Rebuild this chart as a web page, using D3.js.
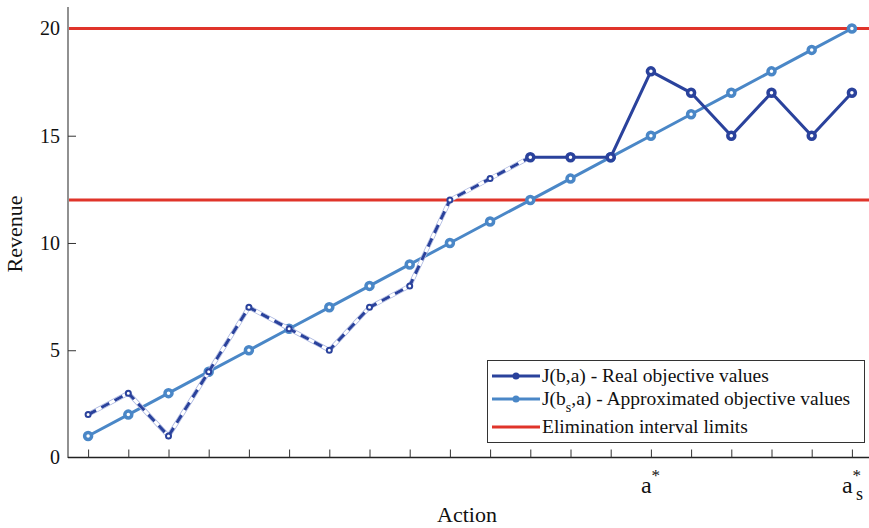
<!DOCTYPE html>
<html><head><meta charset="utf-8">
<script src="https://cdn.jsdelivr.net/npm/d3@7"></script>
<style>body{margin:0;background:#fff}svg{display:block}text{font-family:"Liberation Serif","Times New Roman",serif;fill:#111}</style>
</head><body><svg id="c" width="869" height="528"></svg>
<script>
const actions = d3.range(1, 21);
const realValues = [2,3,1,4,7,6,5,7,8,12,13,14,14,14,18,17,15,17,15,17];
const approxValues = [1,2,3,4,5,6,7,8,9,10,11,12,13,14,15,16,17,18,19,20];
const limits = [12, 20];
const yTicks = [0,5,10,15,20];
const dashedUntil = 12; // real values drawn dashed up to this action
const xLabels = {15: ["a", "*", ""], 20: ["a", "*", "s"]};
const legendItems = ["J(b,a) - Real objective values", "J(b_s,a) - Approximated objective values", "Elimination interval limits"];

const cReal = "#2a429c", cApprox = "#4a87c7", cRed = "#e0342a";
const svg = d3.select("#c");
const x = d3.scaleLinear().domain([0.5, 20.5]).range([68, 872]);
const y = d3.scaleLinear().domain([0, 21]).range([457.5, 7]);

// axes
const yAxis = svg.append("g").attr("transform", "translate(68,0)")
  .call(d3.axisLeft(y).tickValues(yTicks).tickSize(-8).tickPadding(8).tickFormat(d3.format("d")));
yAxis.select(".domain").attr("stroke", "#555").attr("stroke-width", 1.3).attr("d", `M0,${y(21)}V${y(0)+0.5}`);
yAxis.selectAll(".tick line").attr("stroke", "#333");
yAxis.selectAll(".tick text").attr("font-size", 20).attr("x", -8).attr("fill", "#111");
yAxis.selectAll(".tick").filter(d => d === 0 || d === 20).select("line").remove();

const xAxis = svg.append("g").attr("transform", `translate(0,${y(0)})`)
  .call(d3.axisBottom(x).tickValues(actions).tickSize(-8).tickFormat(""));
xAxis.select(".domain").attr("stroke", "#222").attr("stroke-width", 1.3).attr("d", `M68,0H869`);
xAxis.selectAll(".tick line").attr("stroke", "#333");

// x labels
Object.entries(xLabels).forEach(([k, v]) => {
  const t = svg.append("text").attr("x", x(+k) - 10).attr("y", 493).attr("font-size", 24);
  t.append("tspan").text(v[0]);
  t.append("tspan").attr("font-size", 17).attr("dy", -12).attr("dx", 0).text(v[1]);
  if (v[2]) t.append("tspan").attr("font-size", 18).attr("x", x(+k) + 4).attr("dy", 19).text(v[2]);
});

svg.append("text").attr("transform", "translate(22,234) rotate(-90)").attr("text-anchor", "middle").attr("font-size", 22).text("Revenue");
svg.append("text").attr("x", 467).attr("y", 522).attr("text-anchor", "middle").attr("font-size", 22).text("Action");

// limits
limits.forEach(v => svg.append("line").attr("x1", 69).attr("x2", 869).attr("y1", y(v)).attr("y2", y(v))
  .attr("stroke", cRed).attr("stroke-width", 3));

const line = d3.line().x(d => x(d[0])).y(d => y(d[1]));
const approx = actions.map((a, i) => [a, approxValues[i]]);
const real = actions.map((a, i) => [a, realValues[i]]);
const realDash = real.filter(d => d[0] <= dashedUntil);
const realSolid = real.filter(d => d[0] >= dashedUntil);

// approx line
svg.append("path").attr("d", line(approx)).attr("fill", "none").attr("stroke", cApprox).attr("stroke-width", 3);
svg.selectAll(".am").data(approx).join("circle").attr("cx", d => x(d[0])).attr("cy", d => y(d[1]))
  .attr("r", 3.5).attr("fill", "#fff").attr("stroke", cApprox).attr("stroke-width", 3.5);

// dashed real
svg.append("path").attr("d", line(realDash)).attr("fill", "none").attr("stroke", "#aab6e0").attr("stroke-width", 4.5);
svg.append("path").attr("d", line(realDash)).attr("fill", "none").attr("stroke", "#fff").attr("stroke-width", 3);
svg.append("path").attr("d", line(realDash)).attr("fill", "none").attr("stroke", cReal).attr("stroke-width", 3).attr("stroke-dasharray", "9,6");
svg.selectAll(".rdm").data(realDash.slice(0, -1)).join("circle").attr("cx", d => x(d[0])).attr("cy", d => y(d[1]))
  .attr("r", 2.5).attr("fill", "#fff").attr("stroke", cReal).attr("stroke-width", 2);

// solid real
svg.append("path").attr("d", line(realSolid)).attr("fill", "none").attr("stroke", cReal).attr("stroke-width", 3);
svg.selectAll(".rsm").data(realSolid).join("circle").attr("cx", d => x(d[0])).attr("cy", d => y(d[1]))
  .attr("r", 3.5).attr("fill", "#fff").attr("stroke", cReal).attr("stroke-width", 3.5);

// legend
const lg = svg.append("g");
lg.append("rect").attr("x", 487.5).attr("y", 360.5).attr("width", 377).attr("height", 82).attr("fill", "#fff").attr("stroke", "#333").attr("stroke-width", 1);
const rows = [376, 399, 427];
const lc = [cReal, cApprox, cRed];
rows.forEach((ry, i) => {
  lg.append("line").attr("x1", 492).attr("x2", 540).attr("y1", ry).attr("y2", ry).attr("stroke", lc[i]).attr("stroke-width", 3);
  if (i < 2) lg.append("circle").attr("cx", 516).attr("cy", ry).attr("r", 2.5).attr("fill", lc[i]).attr("stroke", lc[i]).attr("stroke-width", 2);
  const t = lg.append("text").attr("x", 542).attr("y", ry + 6).attr("font-size", 19.5);
  const label = legendItems[i];
  if (label.includes("_s")) {
    const [a, b] = label.split("_s");
    t.append("tspan").text(a);
    t.append("tspan").attr("font-size", 14).attr("dy", 7).text("s");
    t.append("tspan").attr("dy", -7).text(b);
  } else t.text(label);
});
</script></body></html>
